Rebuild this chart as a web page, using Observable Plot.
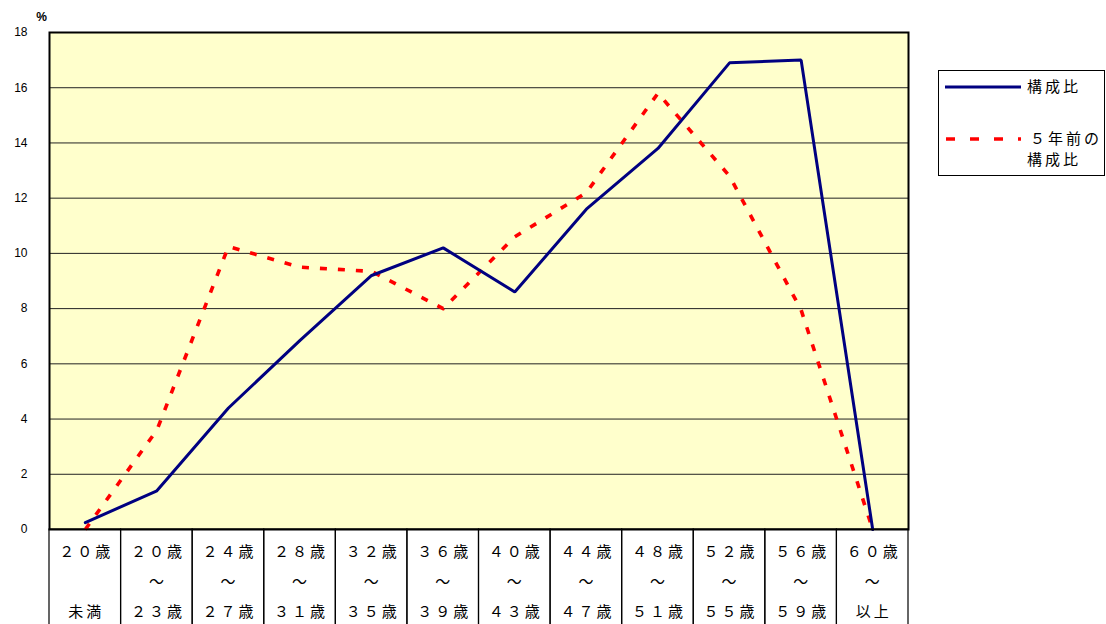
<!DOCTYPE html>
<html>
<head>
<meta charset="utf-8">
<script src="https://cdn.jsdelivr.net/npm/d3@7"></script>
<script src="https://cdn.jsdelivr.net/npm/@observablehq/plot@0.6"></script>
<style>
  html, body { margin: 0; padding: 0; background: #fff; }
  #chart svg { display: block; }
  .cjk text, text.cjk { letter-spacing: 3px; }
</style>
</head>
<body>
<div id="chart"></div>
<script>
// Categories (age groups) and their three-line table labels
const categories = ["lt20", "20-23", "24-27", "28-31", "32-35", "36-39", "40-43", "44-47", "48-51", "52-55", "56-59", "60+"];
const labelTop = ["２０歳", "２０歳", "２４歳", "２８歳", "３２歳", "３６歳", "４０歳", "４４歳", "４８歳", "５２歳", "５６歳", "６０歳"];
const labelMid = ["", "～", "～", "～", "～", "～", "～", "～", "～", "～", "～", "～"];
const labelBottom = ["未満", "２３歳", "２７歳", "３１歳", "３５歳", "３９歳", "４３歳", "４７歳", "５１歳", "５５歳", "５９歳", "以上"];

// Series values (%)
const shareNow = [0.25, 1.4, 4.4, 6.85, 9.2, 10.2, 8.6, 11.6, 13.8, 16.9, 17.0, 0.0];
const share5YearsAgo = [0.0, 3.6, 10.25, 9.5, 9.35, 8.0, 10.6, 12.2, 15.8, 12.8, 7.95, 0.0];

// Y tick labels
const yTicks = [0, 2, 4, 6, 8, 10, 12, 14, 16, 18];
const gridTicks = [2, 4, 6, 8, 10, 12, 14, 16];

const seriesNames = ["構成比", "５年前の\n構成比"];

const rows = categories.map((c, i) => ({
  cat: c, top: labelTop[i], mid: labelMid[i], bottom: labelBottom[i],
  now: shareNow[i], ago: share5YearsAgo[i]
}));

const cjk = "'Noto Sans CJK JP', 'Noto Sans CJK SC', sans-serif";

const plot = Plot.plot({
  width: 1106,
  height: 624,
  marginLeft: 49,
  marginRight: 198,
  marginTop: 32,
  marginBottom: 95,
  style: {background: "#ffffff", fontFamily: "'Liberation Sans', Arial, sans-serif"},
  x: {type: "band", domain: categories, padding: 0, round: false, axis: null},
  y: {domain: [0, 18], axis: null},
  marks: [
    Plot.frame({fill: "#FFFFCC", stroke: "none"}),
    Plot.ruleY(gridTicks, {stroke: "#222", strokeWidth: 1}),
    // table cells below the plot
    Plot.barY(categories, {x: d => d, y1: 0, y2: 0, insetBottom: -96, fill: "none", stroke: "#000", strokeWidth: 1.2}),
    Plot.text(rows, {x: "cat", y: () => 0, text: "top", dy: 23, dx: 1, fontSize: 15, fontFamily: cjk, fill: "#000", className: "cjk"}),
    Plot.text(rows, {x: "cat", y: () => 0, text: "mid", dy: 53, dx: 1, fontSize: 15, fontFamily: cjk, fill: "#000", className: "cjk"}),
    Plot.text(rows, {x: "cat", y: () => 0, text: "bottom", dy: 83, dx: 1, fontSize: 15, fontFamily: cjk, fill: "#000", className: "cjk"}),
    // y tick labels
    Plot.text(yTicks, {y: d => d, text: d => String(d), frameAnchor: "left", dx: -22, textAnchor: "end", fontSize: 12, fill: "#000"}),
    Plot.text(["%"], {y: () => 18, text: d => d, frameAnchor: "left", dx: -8, dy: -15, textAnchor: "middle", fontSize: 12, fontWeight: "bold", fill: "#000"}),
    // series
    Plot.lineY(rows, {x: "cat", y: "ago", stroke: "#FF0000", strokeWidth: 3.6, strokeDasharray: "7,11", strokeLinecap: "butt"}),
    Plot.lineY(rows, {x: "cat", y: "now", stroke: "#000080", strokeWidth: 3, strokeLinejoin: "miter"}),
    Plot.frame({stroke: "#000", strokeWidth: 2})
  ]
});

// Legend drawn into the same SVG
const svg = d3.select(plot);
const lg = svg.append("g").attr("font-family", cjk).attr("font-size", 15).attr("text-anchor", "start");
lg.append("rect").attr("x", 938.5).attr("y", 70.5).attr("width", 166).attr("height", 105)
  .attr("fill", "#fff").attr("stroke", "#000").attr("stroke-width", 1);
lg.append("line").attr("x1", 945).attr("x2", 1021).attr("y1", 87).attr("y2", 87)
  .attr("stroke", "#000080").attr("stroke-width", 3);
lg.append("line").attr("x1", 946).attr("x2", 1021).attr("y1", 139).attr("y2", 139)
  .attr("stroke", "#FF0000").attr("stroke-width", 3.6).attr("stroke-dasharray", "9,15");
lg.append("text").attr("class", "cjk").attr("x", 1027).attr("y", 87).attr("dy", "0.35em").text(seriesNames[0]);
const t2 = seriesNames[1].split("\n");
lg.append("text").attr("class", "cjk").attr("x", 1030).attr("y", 139).attr("dy", "0.35em").text(t2[0]);
lg.append("text").attr("class", "cjk").attr("x", 1027).attr("y", 160).attr("dy", "0.35em").text(t2[1]);

document.getElementById("chart").appendChild(plot);
</script>
</body>
</html>
